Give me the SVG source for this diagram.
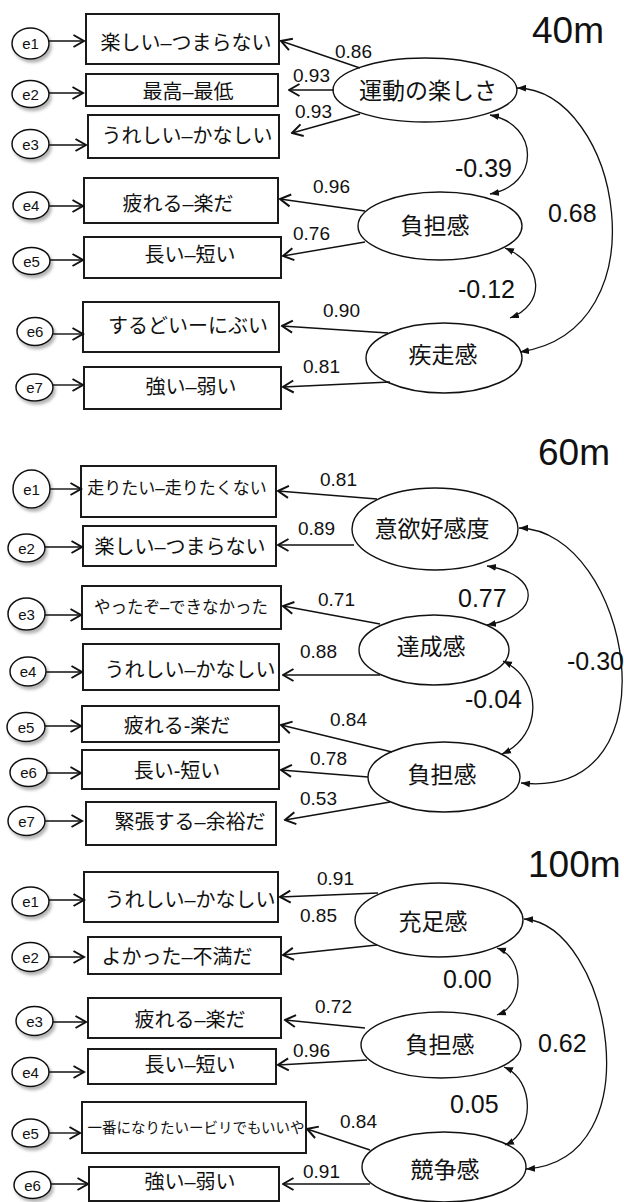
<svg xmlns="http://www.w3.org/2000/svg" width="624" height="1202" viewBox="0 0 624 1202">
<defs>
<style>
.box{fill:#fff;stroke:#1a1a1a;stroke-width:2}
.lat{fill:#fff;stroke:#111;stroke-width:1.4}
.err{fill:#fff;stroke:#111;stroke-width:1.5;filter:url(#sh)}
text{font-family:"Liberation Sans","Noto Sans CJK JP",sans-serif;fill:#111}
.bt{font-size:20px;text-anchor:middle;dominant-baseline:central}
.lt{font-size:23px;text-anchor:middle;dominant-baseline:central}
.et{font-size:15px;text-anchor:middle;dominant-baseline:central}
.num{font-size:19px}
.cor{font-size:25px}
.title{font-size:37px}
.ld{stroke:#111;stroke-width:1.4;fill:none;marker-end:url(#open)}
.cv{stroke:#111;stroke-width:1.3;fill:none;marker-start:url(#tri);marker-end:url(#tri)}
</style>
<filter id="sh" x="-30%" y="-30%" width="170%" height="180%">
<feDropShadow dx="2" dy="3" stdDeviation="1.8" flood-color="#777" flood-opacity="0.55"/>
</filter>
<marker id="open" markerUnits="userSpaceOnUse" markerWidth="13" markerHeight="15" viewBox="0 0 13 15" refX="11.5" refY="7.5" orient="auto">
<path d="M1,1.5 L11.5,7.5 L1,13.5" fill="none" stroke="#111" stroke-width="2"/>
</marker>
<marker id="tri" markerUnits="userSpaceOnUse" markerWidth="9" markerHeight="8" viewBox="0 0 9 8" refX="9" refY="4" orient="auto-start-reverse">
<path d="M0,0.6 L9,4 L0,7.4 Z" fill="#111"/>
</marker>
</defs>
<rect width="624" height="1202" fill="#fff"/>

<!-- ===== 40m ===== -->
<text class="title" x="532" y="43">40m</text>
<g id="m40-e1"><ellipse class="err" cx="30.5" cy="43.5" rx="18.5" ry="15.5"/><text class="et" x="30.5" y="43.5">e1</text></g>
<g id="m40-e2"><ellipse class="err" cx="30.5" cy="94" rx="18.5" ry="13.5"/><text class="et" x="30.5" y="94">e2</text></g>
<g id="m40-e3"><ellipse class="err" cx="30.5" cy="144" rx="18.5" ry="14.5"/><text class="et" x="30.5" y="144">e3</text></g>
<g id="m40-e4"><ellipse class="err" cx="31" cy="205.5" rx="18" ry="13.5"/><text class="et" x="31" y="205.5">e4</text></g>
<g id="m40-e5"><ellipse class="err" cx="31.5" cy="261" rx="18.5" ry="13.5"/><text class="et" x="31.5" y="261">e5</text></g>
<g id="m40-e6"><ellipse class="err" cx="35" cy="331.5" rx="18" ry="14"/><text class="et" x="35" y="331.5">e6</text></g>
<g id="m40-e7"><ellipse class="err" cx="34.5" cy="387.5" rx="18.5" ry="13.5"/><text class="et" x="34.5" y="387.5">e7</text></g>

<g id="m40-b1"><rect class="box" x="86" y="14" width="193" height="50"/><text class="bt" x="186" y="43">楽しい–つまらない</text></g>
<g id="m40-b2"><rect class="box" x="86" y="74" width="192" height="32"/><text class="bt" x="188" y="92">最高–最低</text></g>
<g id="m40-b3"><rect class="box" x="88" y="115" width="191" height="43"/><text class="bt" x="187" y="136">うれしい–かなしい</text></g>
<g id="m40-b4"><rect class="box" x="84" y="178" width="194" height="45"/><text class="bt" x="178" y="204">疲れる–楽だ</text></g>
<g id="m40-b5"><rect class="box" x="84" y="237" width="197" height="41"/><text class="bt" x="190" y="255">長い–短い</text></g>
<g id="m40-b6"><rect class="box" x="83" y="302" width="196" height="50"/><text class="bt" x="188" y="326">するどいーにぶい</text></g>
<g id="m40-b7"><rect class="box" x="84" y="367" width="197" height="42"/><text class="bt" x="191" y="387">強い–弱い</text></g>

<g id="m40-F1"><ellipse class="lat" cx="425" cy="90" rx="92" ry="32"/><text class="lt" x="428" y="91">運動の楽しさ</text></g>
<g id="m40-F2"><ellipse class="lat" cx="440" cy="226" rx="82" ry="34"/><text class="lt" x="435" y="226">負担感</text></g>
<g id="m40-F3"><ellipse class="lat" cx="444" cy="358" rx="78" ry="35"/><text class="lt" x="443" y="355">疾走感</text></g>

<!-- ===== 60m ===== -->
<text class="title" x="538" y="465">60m</text>
<g id="m60-e1"><ellipse class="err" cx="31.5" cy="489" rx="18.5" ry="19"/><text class="et" x="31.5" y="489">e1</text></g>
<g id="m60-e2"><ellipse class="err" cx="26.5" cy="548" rx="18.5" ry="14"/><text class="et" x="26.5" y="548">e2</text></g>
<g id="m60-e3"><ellipse class="err" cx="26.5" cy="614" rx="18.5" ry="16"/><text class="et" x="26.5" y="614">e3</text></g>
<g id="m60-e4"><ellipse class="err" cx="28" cy="671.5" rx="18" ry="14.5"/><text class="et" x="28" y="671.5">e4</text></g>
<g id="m60-e5"><ellipse class="err" cx="26" cy="727" rx="19" ry="14.5"/><text class="et" x="26" y="727">e5</text></g>
<g id="m60-e6"><ellipse class="err" cx="28.5" cy="772.5" rx="18.5" ry="14"/><text class="et" x="28.5" y="772.5">e6</text></g>
<g id="m60-e7"><ellipse class="err" cx="26.5" cy="821" rx="18.5" ry="14.5"/><text class="et" x="26.5" y="821">e7</text></g>

<g id="m60-b1"><rect class="box" x="81" y="466" width="195" height="51"/><text class="bt" x="177" y="488" style="font-size:17px">走りたい–走りたくない</text></g>
<g id="m60-b2"><rect class="box" x="83" y="526" width="193" height="40"/><text class="bt" x="180" y="547">楽しい–つまらない</text></g>
<g id="m60-b3"><rect class="box" x="82" y="586" width="199" height="43"/><text class="bt" x="181" y="607" style="font-size:16.5px">やったぞ–できなかった</text></g>
<g id="m60-b4"><rect class="box" x="83" y="644" width="196" height="46"/><text class="bt" x="190" y="670">うれしい–かなしい</text></g>
<g id="m60-b5"><rect class="box" x="82" y="706" width="197" height="36"/><text class="bt" x="177" y="726">疲れる-楽だ</text></g>
<g id="m60-b6"><rect class="box" x="82" y="750" width="197" height="39"/><text class="bt" x="177" y="771">長い-短い</text></g>
<g id="m60-b7"><rect class="box" x="86" y="802" width="190" height="43"/><text class="bt" x="190" y="822">緊張する–余裕だ</text></g>

<g id="m60-F1"><ellipse class="lat" cx="435" cy="529" rx="83" ry="41"/><text class="lt" x="432" y="529">意欲好感度</text></g>
<g id="m60-F2"><ellipse class="lat" cx="434" cy="650" rx="75" ry="35"/><text class="lt" x="431" y="647">達成感</text></g>
<g id="m60-F3"><ellipse class="lat" cx="444" cy="777" rx="76" ry="35"/><text class="lt" x="442" y="775">負担感</text></g>

<!-- ===== 100m ===== -->
<text class="title" x="528" y="877">100m</text>
<g id="m100-e1"><ellipse class="err" cx="30.5" cy="901.5" rx="18.5" ry="14.5"/><text class="et" x="30.5" y="901.5">e1</text></g>
<g id="m100-e2"><ellipse class="err" cx="30.5" cy="957" rx="18.5" ry="14.5"/><text class="et" x="30.5" y="957">e2</text></g>
<g id="m100-e3"><ellipse class="err" cx="34.5" cy="1021" rx="18.5" ry="14.5"/><text class="et" x="34.5" y="1021">e3</text></g>
<g id="m100-e4"><ellipse class="err" cx="30.5" cy="1072" rx="18.5" ry="14.5"/><text class="et" x="30.5" y="1072">e4</text></g>
<g id="m100-e5"><ellipse class="err" cx="30.5" cy="1133" rx="18.5" ry="14"/><text class="et" x="30.5" y="1133">e5</text></g>
<g id="m100-e6"><ellipse class="err" cx="32.5" cy="1185" rx="18.5" ry="13.5"/><text class="et" x="32.5" y="1185">e6</text></g>

<g id="m100-b1"><rect class="box" x="84" y="872" width="194" height="50"/><text class="bt" x="190" y="900">うれしい–かなしい</text></g>
<g id="m100-b2"><rect class="box" x="88" y="937" width="193" height="37"/><text class="bt" x="177" y="957">よかった–不満だ</text></g>
<g id="m100-b3"><rect class="box" x="88" y="998" width="193" height="40"/><text class="bt" x="190" y="1020">疲れる–楽だ</text></g>
<g id="m100-b4"><rect class="box" x="88" y="1049" width="188" height="35"/><text class="bt" x="190" y="1065">長い–短い</text></g>
<g id="m100-b5"><rect class="box" x="82" y="1102" width="224" height="51"/><text class="bt" x="196" y="1128" style="font-size:14.5px">一番になりたいービリでもいいや</text></g>
<g id="m100-b6"><rect class="box" x="89" y="1167" width="190" height="34"/><text class="bt" x="190" y="1182">強い–弱い</text></g>

<g id="m100-F1"><ellipse class="lat" cx="439" cy="920" rx="84" ry="37"/><text class="lt" x="433" y="922">充足感</text></g>
<g id="m100-F2"><ellipse class="lat" cx="441" cy="1045" rx="80" ry="33"/><text class="lt" x="440" y="1045">負担感</text></g>
<g id="m100-F3"><ellipse class="lat" cx="444" cy="1167" rx="82" ry="35"/><text class="lt" x="445" y="1170">競争感</text></g>

<!-- ===== connectors ===== -->
<g id="connectors">
<!-- error arrows 40m -->
<line class="ld" x1="49" y1="41" x2="84" y2="41"/>
<line class="ld" x1="49" y1="93" x2="83" y2="93"/>
<line class="ld" x1="49" y1="145" x2="86" y2="145"/>
<line class="ld" x1="49" y1="206" x2="83" y2="206"/>
<line class="ld" x1="50" y1="260" x2="83" y2="260"/>
<line class="ld" x1="53" y1="334" x2="83" y2="334"/>
<line class="ld" x1="53" y1="385" x2="83" y2="385"/>
<!-- loadings 40m -->
<line class="ld" x1="360" y1="68" x2="281" y2="41"/>
<line class="ld" x1="334" y1="90" x2="289" y2="90"/>
<line class="ld" x1="360" y1="114" x2="292" y2="133"/>
<line class="ld" x1="365" y1="211" x2="280" y2="199"/>
<line class="ld" x1="365" y1="242" x2="283" y2="256"/>
<line class="ld" x1="388" y1="333" x2="282" y2="326"/>
<line class="ld" x1="390" y1="382" x2="283" y2="387"/>
<!-- correlations 40m -->
<path class="cv" d="M490,115 C540,125 540,185 490,194"/>
<path class="cv" d="M517,88 C620,90 665,330 520,352"/>
<path class="cv" d="M505,248 C545,265 545,305 510,318"/>

<!-- error arrows 60m -->
<line class="ld" x1="50" y1="489" x2="81" y2="489"/>
<line class="ld" x1="45" y1="547" x2="82" y2="547"/>
<line class="ld" x1="45" y1="615" x2="81" y2="615"/>
<line class="ld" x1="46" y1="672" x2="82" y2="672"/>
<line class="ld" x1="45" y1="726" x2="81" y2="726"/>
<line class="ld" x1="47" y1="773" x2="81" y2="773"/>
<line class="ld" x1="45" y1="821" x2="82" y2="821"/>
<!-- loadings 60m -->
<line class="ld" x1="377" y1="499" x2="278" y2="491"/>
<line class="ld" x1="354" y1="545" x2="278" y2="545"/>
<line class="ld" x1="380" y1="624" x2="283" y2="606"/>
<line class="ld" x1="380" y1="675" x2="283" y2="675"/>
<line class="ld" x1="392" y1="752" x2="281" y2="725"/>
<line class="ld" x1="368" y1="777" x2="281" y2="770"/>
<line class="ld" x1="390" y1="802" x2="285" y2="820"/>
<!-- correlations 60m -->
<path class="cv" d="M487,566 C542,575 542,615 487,625"/>
<path class="cv" d="M503,661 C543,680 543,735 502,754"/>
<path class="cv" d="M519,528 C630,530 680,800 521,783"/>

<!-- error arrows 100m -->
<line class="ld" x1="49" y1="900" x2="84" y2="900"/>
<line class="ld" x1="49" y1="957" x2="84" y2="957"/>
<line class="ld" x1="53" y1="1022" x2="86" y2="1022"/>
<line class="ld" x1="49" y1="1072" x2="84" y2="1072"/>
<line class="ld" x1="49" y1="1133" x2="80" y2="1133"/>
<line class="ld" x1="51" y1="1184" x2="88" y2="1184"/>
<!-- loadings 100m -->
<line class="ld" x1="378" y1="893" x2="280" y2="897"/>
<line class="ld" x1="377" y1="945" x2="283" y2="955"/>
<line class="ld" x1="365" y1="1028" x2="285" y2="1020"/>
<line class="ld" x1="367" y1="1060" x2="278" y2="1065"/>
<line class="ld" x1="370" y1="1150" x2="307" y2="1129"/>
<line class="ld" x1="370" y1="1184" x2="283" y2="1184"/>
<!-- correlations 100m -->
<path class="cv" d="M497,948 C525,958 525,1005 497,1015"/>
<path class="cv" d="M504,1067 C535,1080 535,1132 505,1145"/>
<path class="cv" d="M524,919 C610,925 655,1160 526,1169"/>
</g>

<!-- labels -->
<g id="labels">
<text class="num" x="335" y="58">0.86</text>
<text class="num" x="293" y="82">0.93</text>
<text class="num" x="295" y="118">0.93</text>
<text class="num" x="313" y="193">0.96</text>
<text class="num" x="293" y="240">0.76</text>
<text class="num" x="323" y="317">0.90</text>
<text class="num" x="303" y="373">0.81</text>
<text class="cor" x="455" y="177">-0.39</text>
<text class="cor" x="548" y="222">0.68</text>
<text class="cor" x="458" y="298">-0.12</text>

<text class="num" x="320" y="486">0.81</text>
<text class="num" x="298" y="535">0.89</text>
<text class="num" x="318" y="606">0.71</text>
<text class="num" x="300" y="658">0.88</text>
<text class="num" x="330" y="726">0.84</text>
<text class="num" x="310" y="765">0.78</text>
<text class="num" x="300" y="805">0.53</text>
<text class="cor" x="458" y="607">0.77</text>
<text class="cor" x="465" y="708">-0.04</text>
<text class="cor" x="567" y="670">-0.30</text>

<text class="num" x="317" y="885">0.91</text>
<text class="num" x="300" y="922">0.85</text>
<text class="num" x="315" y="1013">0.72</text>
<text class="num" x="293" y="1057">0.96</text>
<text class="num" x="340" y="1128">0.84</text>
<text class="num" x="303" y="1178">0.91</text>
<text class="cor" x="443" y="988">0.00</text>
<text class="cor" x="450" y="1113">0.05</text>
<text class="cor" x="538" y="1052">0.62</text>
</g>
</svg>
